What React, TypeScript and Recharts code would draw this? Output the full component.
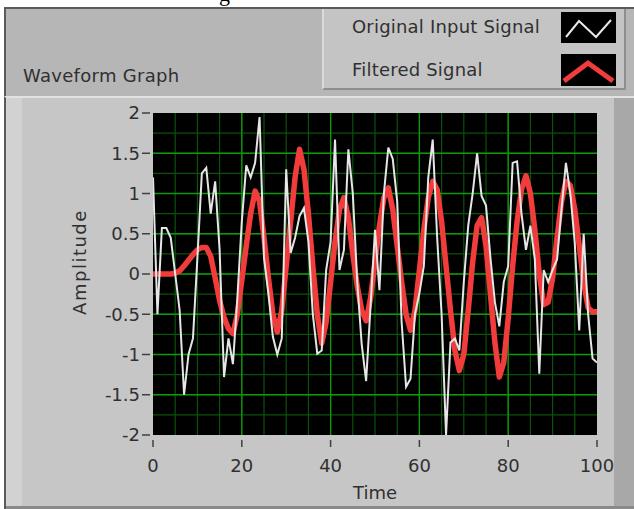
import React from 'react';
import { LineChart, Line, XAxis, YAxis, CartesianGrid } from 'recharts';

const timeValues = [
  0, 1, 2, 3, 4, 5, 6, 7, 8, 9, 10, 11, 12, 13, 14, 15, 16, 17, 18, 19, 20,
  21, 22, 23, 24, 25, 26, 27, 28, 29, 30, 31, 32, 33, 34, 35, 36, 37, 38, 39, 40,
  41, 42, 43, 44, 45, 46, 47, 48, 49, 50, 51, 52, 53, 54, 55, 56, 57, 58, 59, 60,
  61, 62, 63, 64, 65, 66, 67, 68, 69, 70, 71, 72, 73, 74, 75, 76, 77, 78, 79, 80,
  81, 82, 83, 84, 85, 86, 87, 88, 89, 90, 91, 92, 93, 94, 95, 96, 97, 98, 99, 100,
];

const originalInput = [
  1.2, -0.5, 0.57, 0.57, 0.45, 0.0, -0.45, -1.5, -1.0, -0.8,
  0.2, 1.25, 1.32, 0.75, 1.15, 0.3, -1.28, -0.8, -1.12, -0.3,
  0.65, 1.35, 1.2, 1.38, 1.95, 0.2, -0.25, -0.78, -1.0, -0.8,
  1.3, 0.26, 0.45, 0.72, 0.82, 0.4, -0.5, -0.99, -0.95, 0.05,
  0.4, 1.67, 0.05, 0.3, 1.55, 1.0, -0.1, -0.87, -1.33, -0.4,
  0.55, -0.2, 1.0, 1.57, 1.43, 0.9, -0.6, -1.4, -1.3, -0.5,
  -0.24, 0.1, 1.2, 1.67, 0.45, -0.5, -2.0, -0.85, -0.8, -0.95,
  -0.1, 0.6, 1.0, 1.5, 0.97, 0.85, 0.2, -0.35, -0.65, -0.1,
  0.1, 1.38, 1.4, 0.75, 0.3, 0.6, 0.18, -1.24, 0.05, -0.1,
  0.05, 0.18, 0.8, 1.38, 1.0, 0.38, -0.7, 0.5, -0.5, -1.05,
  -1.1,
];

const filteredSignal = [
  0, 0, 0, 0, 0, 0.01, 0.04, 0.1, 0.17, 0.24,
  0.3, 0.33, 0.33, 0.22, -0.05, -0.33, -0.54, -0.68, -0.74, -0.5,
  -0.08, 0.35, 0.75, 1.03, 0.9, 0.45, -0.05, -0.5, -0.72, -0.45,
  0.1, 0.65, 1.2, 1.55, 1.3, 0.75, 0.1, -0.5, -0.86, -0.6,
  -0.1, 0.4, 0.8, 0.95, 0.7, 0.25, -0.15, -0.45, -0.58, -0.3,
  0.15, 0.6, 0.95, 1.07, 0.8, 0.35, -0.1, -0.5, -0.7, -0.45,
  0.05, 0.55, 0.95, 1.15, 1.05, 0.65, 0.1, -0.45, -0.95, -1.2,
  -1.0, -0.45, 0.15, 0.6, 0.7, 0.35, -0.25, -0.85, -1.28, -1.1,
  -0.55, 0.1, 0.65, 1.05, 1.22, 1.0, 0.55, 0.0, -0.38, -0.35,
  -0.05, 0.45, 0.9, 1.15, 1.1, 0.8, 0.35, -0.1, -0.42, -0.47,
  -0.47,
];

const xTicks = [0, 20, 40, 60, 80, 100];
const yTicks = [-2, -1.5, -1, -0.5, 0, 0.5, 1, 1.5, 2];
const xMinorGrid = [5, 10, 15, 20, 25, 30, 35, 40, 45, 50, 55, 60, 65, 70, 75, 80, 85, 90, 95];
const xMajorGrid = [20, 40, 60, 80];
const yMinorGrid = [-1.75, -1.5, -1.25, -1, -0.75, -0.5, -0.25, 0, 0.25, 0.5, 0.75, 1, 1.25, 1.5, 1.75];
const yMajorGrid = [-1.5, -1, -0.5, 0, 0.5, 1, 1.5];

const seriesNames = ['Original Input Signal', 'Filtered Signal'];
const graphTitle = 'Waveform Graph';
const xTitle = 'Time';
const yTitle = 'Amplitude';

const rows = timeValues.map((t, i) => ({
  t,
  original: originalInput[i],
  filtered: filteredSignal[i],
}));

const FONT = '"DejaVu Sans", Verdana, sans-serif';
const TEXT = '#303030';

const XTick = (props: any) => {
  const { x, y, payload } = props;
  return (
    <g>
      <line x1={x} x2={x} y1={y + 5} y2={y + 12} stroke="#404040" strokeWidth={1.5} />
      <text x={x} y={y + 37} textAnchor="middle" fontSize={18} fontFamily={FONT} fill={TEXT}>
        {payload.value}
      </text>
    </g>
  );
};

const YTick = (props: any) => {
  const { x, y, payload } = props;
  return (
    <g>
      <line x1={x - 11} x2={x - 3} y1={y} y2={y} stroke="#404040" strokeWidth={1.5} />
      <text x={x - 13} y={y} dy="0.36em" textAnchor="end" fontSize={18} fontFamily={FONT} fill={TEXT}>
        {payload.value}
      </text>
    </g>
  );
};

const YLabel = (props: any) => {
  const vb = props.viewBox || {};
  const cx = vb.x + vb.width - 73;
  const cy = vb.y + vb.height / 2 - 12;
  return (
    <text x={cx} y={cy} transform={`rotate(-90 ${cx} ${cy})`} textAnchor="middle" dy="0.36em"
      fontSize={18} letterSpacing={1.5} fontFamily={FONT} fill={TEXT}>
      {yTitle}
    </text>
  );
};

const XLabel = (props: any) => {
  const vb = props.viewBox || {};
  const cx = vb.x + vb.width / 2;
  return (
    <text x={cx} y={vb.y + 64} textAnchor="middle" fontSize={18} fontFamily={FONT} fill={TEXT}>
      {xTitle}
    </text>
  );
};

const abs = (s: React.CSSProperties): React.CSSProperties => ({ position: 'absolute', boxSizing: 'border-box', ...s });

export default function App() {
  return (
    <div style={abs({ left: 0, top: 0, width: 634, height: 509, background: '#ffffff', overflow: 'hidden' })}>
      {/* clipped caption descender */}
      <div style={abs({ left: 0, top: 0, width: 634, height: 7, overflow: 'hidden' })}>
        <span style={{ position: 'absolute', left: 219, top: -19, fontFamily: '"Liberation Serif", serif', fontSize: 22, color: '#000' }}>g</span>
      </div>
      {/* header */}
      <div style={abs({ left: 4, top: 7, width: 630, height: 90, background: '#b6b6b6', borderTop: '2px solid #5a5a5a', borderLeft: '2px solid #5a5a5a' })} />
      <div style={abs({ left: 23, top: 65, fontFamily: FONT, fontSize: 18, color: TEXT, whiteSpace: 'nowrap', letterSpacing: 0.3 })}>{graphTitle}</div>
      {/* legend */}
      <div style={abs({ left: 322, top: 9, width: 304, height: 81, background: '#c4c4c4', borderLeft: '2px solid #dadada', borderBottom: '2px solid #8e8e8e', borderRight: '2px solid #8e8e8e' })} />
      <div style={abs({ left: 352, top: 16, fontFamily: FONT, fontSize: 18, color: TEXT, whiteSpace: 'nowrap', letterSpacing: 0.2 })}>{seriesNames[0]}</div>
      <div style={abs({ left: 352, top: 59, fontFamily: FONT, fontSize: 18, color: TEXT, whiteSpace: 'nowrap', letterSpacing: 0.2 })}>{seriesNames[1]}</div>
      <svg style={abs({ left: 561, top: 12, width: 55, height: 31 })} width={55} height={31}>
        <rect x={0} y={0} width={55} height={31} fill="#000" />
        <polyline points="5,25 18,9 35,25 50,8" fill="none" stroke="#e8e8e8" strokeWidth={2} />
      </svg>
      <svg style={abs({ left: 561, top: 54, width: 55, height: 32 })} width={55} height={32}>
        <rect x={0} y={0} width={55} height={32} fill="#000" />
        <polyline points="3,27 27,9 52,27" fill="none" stroke="#f23c3c" strokeWidth={5} />
      </svg>
      {/* plot frame */}
      <div style={abs({ left: 4, top: 96, width: 630, height: 413, background: '#c6c6c6', borderTop: '2px solid #e2e2e2', borderLeft: '2px solid #5a5a5a' })} />
      <div style={abs({ left: 6, top: 98, width: 16, height: 411, background: '#d2d2d2' })} />
      <div style={abs({ left: 614, top: 98, width: 20, height: 411, background: '#a8a8a8' })} />
      <div style={abs({ left: 6, top: 506, width: 628, height: 3, background: '#8a8a8a' })} />
      <div style={abs({ left: 0, top: 0 })}>
        <LineChart width={634} height={509} data={rows} margin={{ top: 113, right: 37, bottom: 44, left: 93 }}>
          <CartesianGrid fill="#000000" fillOpacity={1} stroke="#0b520b" strokeWidth={1.2}
            horizontalValues={yMinorGrid} verticalValues={xMinorGrid} />
          <CartesianGrid fill="none" stroke="#0c9a0c" strokeWidth={1.3}
            horizontalValues={yMajorGrid} verticalValues={xMajorGrid} />
          <XAxis dataKey="t" type="number" domain={[0, 100]} ticks={xTicks} height={30}
            axisLine={false} tickLine={false} tickSize={0} tickMargin={0} tick={<XTick />}
            interval={0} allowDataOverflow label={<XLabel />} />
          <YAxis type="number" domain={[-2, 2]} ticks={yTicks} width={60}
            axisLine={false} tickLine={false} tickSize={0} tickMargin={0} tick={<YTick />}
            interval={0} allowDataOverflow label={<YLabel />} />
          <Line type="linear" dataKey="filtered" stroke="#f23c3c" strokeWidth={5.5} dot={false}
            isAnimationActive={false} strokeLinejoin="round" />
          <Line type="linear" dataKey="original" stroke="#e6e6e6" strokeWidth={2} dot={false}
            isAnimationActive={false} strokeLinejoin="miter" />
        </LineChart>
      </div>
    </div>
  );
}
